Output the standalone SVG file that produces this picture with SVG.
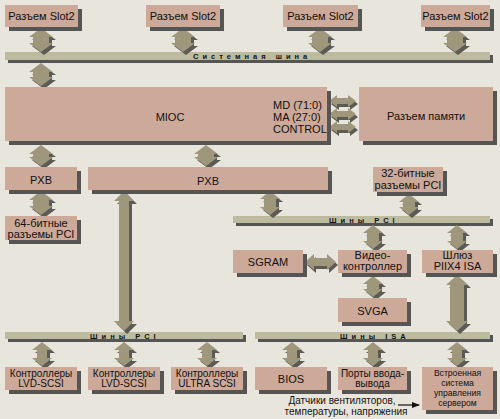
<svg xmlns="http://www.w3.org/2000/svg" xmlns:xlink="http://www.w3.org/1999/xlink" width="500" height="419" viewBox="0 0 500 419">
<style>
.bg{fill:#e8e6dc}
.box{fill:#cca998}
.bsh{fill:#555553}
.bus{fill:#bcbba0}
.a{fill:#9f977b}
.ash{fill:#5b5a55}
text{font-family:"Liberation Sans","DejaVu Sans",sans-serif;font-size:11px;fill:#111;text-anchor:middle}
.sm{font-size:10px}
.xs{font-size:8.6px}
.bl{font-size:7.5px;font-weight:bold;letter-spacing:4px;text-anchor:start}
.l{text-anchor:start}
</style>
<defs>
<path id="a1" d="M41 28 L53 37 L49 37 L49 43 L53 43 L41 52 L29 43 L33 43 L33 37 L29 37 Z"/>
<path id="a2" d="M183 28 L195 37 L191 37 L191 43 L195 43 L183 52 L171 43 L175 43 L175 37 L171 37 Z"/>
<path id="a3" d="M320 28 L332 37 L328 37 L328 43 L332 43 L320 52 L308 43 L312 43 L312 37 L308 37 Z"/>
<path id="a4" d="M455 28 L467 37 L463 37 L463 43 L467 43 L455 52 L443 43 L447 43 L447 37 L443 37 Z"/>
<path id="a5" d="M41 63 L53 72 L49 72 L49 77 L53 77 L41 86 L29 77 L33 77 L33 72 L29 72 Z"/>
<path id="a6" d="M41 145 L53 154 L49 154 L49 157 L53 157 L41 166 L29 157 L33 157 L33 154 L29 154 Z"/>
<path id="a7" d="M206 145 L218 154 L214 154 L214 157 L218 157 L206 166 L194 157 L198 157 L198 154 L194 154 Z"/>
<path id="a8" d="M41 191 L53 200 L49 200 L49 206 L53 206 L41 215 L29 206 L33 206 L33 200 L29 200 Z"/>
<path id="a9" d="M270 191 L280 199 L276 199 L276 207 L280 207 L270 215 L260 207 L264 207 L264 199 L260 199 Z"/>
<path id="a10" d="M409 194 L419 202 L415 202 L415 207 L419 207 L409 215 L399 207 L403 207 L403 202 L399 202 Z"/>
<path id="a11" d="M373 225 L383 233 L379 233 L379 241 L383 241 L373 249 L363 241 L367 241 L367 233 L363 233 Z"/>
<path id="a12" d="M457 225 L467 233 L463 233 L463 241 L467 241 L457 249 L447 241 L451 241 L451 233 L447 233 Z"/>
<path id="a13" d="M373 276 L383 284 L379 284 L379 289 L383 289 L373 297 L363 289 L367 289 L367 284 L363 284 Z"/>
<path id="a14" d="M124 191 L134 201 L129 201 L129 321 L134 321 L124 331 L114 321 L119 321 L119 201 L114 201 Z"/>
<path id="a15" d="M457 275 L468 285 L464 285 L464 321 L468 321 L457 331 L446 321 L450 321 L450 285 L446 285 Z"/>
<path id="b1" d="M42 342 L52 350 L47 350 L47 358 L52 358 L42 366 L32 358 L37 358 L37 350 L32 350 Z"/>
<path id="b2" d="M124 342 L134 350 L129 350 L129 358 L134 358 L124 366 L114 358 L119 358 L119 350 L114 350 Z"/>
<path id="b3" d="M207 342 L217 350 L212 350 L212 358 L217 358 L207 366 L197 358 L202 358 L202 350 L197 350 Z"/>
<path id="b4" d="M292 342 L302 350 L297 350 L297 358 L302 358 L292 366 L282 358 L287 358 L287 350 L282 350 Z"/>
<path id="b5" d="M373 342 L383 350 L378 350 L378 358 L383 358 L373 366 L363 358 L368 358 L368 350 L363 350 Z"/>
<path id="b6" d="M457 342 L467 350 L462 350 L462 358 L467 358 L457 366 L447 358 L452 358 L452 350 L447 350 Z"/>
<path id="h1" d="M329 101 L337 95 L337 98 L348 98 L348 95 L356 101 L348 107 L348 104 L337 104 L337 107 Z"/>
<path id="h2" d="M329 114 L337 108 L337 111 L348 111 L348 108 L356 114 L348 120 L348 117 L337 117 L337 120 Z"/>
<path id="h3" d="M329 127 L337 121 L337 124 L348 124 L348 121 L356 127 L348 133 L348 130 L337 130 L337 133 Z"/>
<path id="h4" d="M305 262 L314 254 L314 258 L327 258 L327 254 L336 262 L327 270 L327 266 L314 266 L314 270 Z"/>
<marker id="ah" markerWidth="8" markerHeight="6" refX="7" refY="3" orient="auto" markerUnits="userSpaceOnUse"><path d="M0 0 L8 3 L0 6 Z" fill="#111"/></marker>
</defs>
<rect class="bg" x="0" y="0" width="500" height="419"/>

<g id="buses">
<g id="sysbus"><rect class="bsh" x="8" y="55" width="485" height="8"/><rect class="bus" x="5" y="52" width="485" height="8"/><text class="bl" x="193" y="59">Системная шина</text></g>
<g id="pcibus1"><rect class="bsh" x="236" y="219" width="257" height="7"/><rect class="bus" x="233" y="216" width="257" height="7"/><text class="bl" x="329" y="223">Шины PCI</text></g>
<g id="pcibus2"><rect class="bsh" x="8" y="335" width="238" height="7"/><rect class="bus" x="5" y="332" width="238" height="7"/><text class="bl" x="90" y="339">Шины PCI</text></g>
<g id="isabus"><rect class="bsh" x="258" y="335" width="235" height="7"/><rect class="bus" x="255" y="332" width="235" height="7"/><text class="bl" x="340" y="339">Шины ISA</text></g>
</g>

<g id="connectors">
<use href="#a1" class="ash" x="3" y="3"/><use href="#a1" class="a"/>
<use href="#a2" class="ash" x="3" y="3"/><use href="#a2" class="a"/>
<use href="#a3" class="ash" x="3" y="3"/><use href="#a3" class="a"/>
<use href="#a4" class="ash" x="3" y="3"/><use href="#a4" class="a"/>
<use href="#a5" class="ash" x="3" y="3"/><use href="#a5" class="a"/>
<use href="#a6" class="ash" x="3" y="3"/><use href="#a6" class="a"/>
<use href="#a7" class="ash" x="3" y="3"/><use href="#a7" class="a"/>
<use href="#a8" class="ash" x="3" y="3"/><use href="#a8" class="a"/>
<use href="#a9" class="ash" x="3" y="3"/><use href="#a9" class="a"/>
<use href="#a10" class="ash" x="3" y="3"/><use href="#a10" class="a"/>
<use href="#a11" class="ash" x="3" y="3"/><use href="#a11" class="a"/>
<use href="#a12" class="ash" x="3" y="3"/><use href="#a12" class="a"/>
<use href="#a13" class="ash" x="3" y="3"/><use href="#a13" class="a"/>
<use href="#a14" class="ash" x="3" y="3"/><use href="#a14" class="a"/>
<use href="#a15" class="ash" x="3" y="3"/><use href="#a15" class="a"/>
<use href="#b1" class="ash" x="3" y="3"/><use href="#b1" class="a"/>
<use href="#b2" class="ash" x="3" y="3"/><use href="#b2" class="a"/>
<use href="#b3" class="ash" x="3" y="3"/><use href="#b3" class="a"/>
<use href="#b4" class="ash" x="3" y="3"/><use href="#b4" class="a"/>
<use href="#b5" class="ash" x="3" y="3"/><use href="#b5" class="a"/>
<use href="#b6" class="ash" x="3" y="3"/><use href="#b6" class="a"/>
<use href="#h1" class="ash" x="2" y="3"/><use href="#h1" class="a"/>
<use href="#h2" class="ash" x="2" y="3"/><use href="#h2" class="a"/>
<use href="#h3" class="ash" x="2" y="3"/><use href="#h3" class="a"/>
<use href="#h4" class="ash" x="2" y="3"/><use href="#h4" class="a"/>
<line x1="398" y1="405" x2="419" y2="405" stroke="#111" stroke-width="1.2" marker-end="url(#ah)"/>
</g>

<g id="slot1"><rect class="bsh" x="9" y="9" width="73" height="22"/><rect class="box" x="5" y="5" width="73" height="22"/><text x="41.5" y="20">Разъем Slot2</text></g>
<g id="slot2"><rect class="bsh" x="150" y="9" width="74" height="22"/><rect class="box" x="146" y="5" width="74" height="22"/><text x="183" y="20">Разъем Slot2</text></g>
<g id="slot3"><rect class="bsh" x="287" y="9" width="75" height="22"/><rect class="box" x="283" y="5" width="75" height="22"/><text x="320.5" y="20">Разъем Slot2</text></g>
<g id="slot4"><rect class="bsh" x="425" y="9" width="69" height="22"/><rect class="box" x="421" y="5" width="69" height="22"/><text x="455.5" y="20">Разъем Slot2</text></g>

<g id="mioc"><rect class="bsh" x="9" y="91" width="322" height="54"/><rect class="box" x="5" y="87" width="322" height="54"/><text x="170" y="121">MIOC</text>
<text class="l" x="273" y="109">MD (71:0)</text><text class="l" x="273" y="121">MA (27:0)</text><text class="l" x="273" y="133">CONTROL</text></g>
<g id="memory"><rect class="bsh" x="363" y="91" width="134" height="54"/><rect class="box" x="359" y="87" width="134" height="54"/><text x="426" y="120">Разъем памяти</text></g>

<g id="pxb1"><rect class="bsh" x="9" y="171" width="72" height="23"/><rect class="box" x="5" y="167" width="72" height="23"/><text x="41" y="184">PXB</text></g>
<g id="pxb2"><rect class="bsh" x="92" y="171" width="240" height="23"/><rect class="box" x="88" y="167" width="240" height="23"/><text x="208" y="185">PXB</text></g>
<g id="pci32"><rect class="bsh" x="377" y="171" width="70" height="25"/><rect class="box" x="373" y="167" width="70" height="25"/><text x="408" y="177">32-битные</text><text x="408" y="189">разъемы PCI</text></g>
<g id="pci64"><rect class="bsh" x="9" y="220" width="72" height="24"/><rect class="box" x="5" y="216" width="72" height="24"/><text x="41" y="227">64-битные</text><text x="41" y="238">разъемы PCI</text></g>

<g id="sgram"><rect class="bsh" x="237" y="254" width="70" height="23"/><rect class="box" x="233" y="250" width="70" height="23"/><text x="268" y="266">SGRAM</text></g>
<g id="video"><rect class="bsh" x="342" y="254" width="69" height="23"/><rect class="box" x="338" y="250" width="69" height="23"/><text x="372.5" y="259">Видео-</text><text x="372.5" y="270">контроллер</text></g>
<g id="piix4"><rect class="bsh" x="426" y="254" width="71" height="23"/><rect class="box" x="422" y="250" width="71" height="23"/><text x="457.5" y="259">Шлюз</text><text x="457.5" y="270">PIIX4 ISA</text></g>
<g id="svga"><rect class="bsh" x="342" y="302" width="69" height="24"/><rect class="box" x="338" y="298" width="69" height="24"/><text x="372.5" y="315">SVGA</text></g>

<g id="scsi1"><rect class="bsh" x="9" y="371" width="72" height="23"/><rect class="box" x="5" y="367" width="72" height="23"/><text class="sm" x="41" y="377">Контроллеры</text><text class="sm" x="41" y="387">LVD-SCSI</text></g>
<g id="scsi2"><rect class="bsh" x="92" y="371" width="72" height="23"/><rect class="box" x="88" y="367" width="72" height="23"/><text class="sm" x="124" y="377">Контроллеры</text><text class="sm" x="124" y="387">LVD-SCSI</text></g>
<g id="scsi3"><rect class="bsh" x="175" y="371" width="72" height="23"/><rect class="box" x="171" y="367" width="72" height="23"/><text class="sm" x="207" y="377">Контроллеры</text><text class="sm" x="207" y="387">ULTRA SCSI</text></g>
<g id="bios"><rect class="bsh" x="259" y="371" width="72" height="23"/><rect class="box" x="255" y="367" width="72" height="23"/><text x="291" y="383">BIOS</text></g>
<g id="ports"><rect class="bsh" x="342" y="371" width="69" height="23"/><rect class="box" x="338" y="367" width="69" height="23"/><text class="sm" x="372.5" y="377">Порты ввода-</text><text class="sm" x="372.5" y="387">вывода</text></g>
<g id="mgmt"><rect class="bsh" x="426" y="371" width="71" height="43"/><rect class="box" x="422" y="367" width="71" height="43"/><text class="xs" x="457.5" y="376">Встроенная</text><text class="xs" x="457.5" y="386">система</text><text class="xs" x="457.5" y="396">управления</text><text class="xs" x="457.5" y="406">сервером</text></g>

<g id="sensors"><text class="sm" x="342" y="404">Датчики вентиляторов,</text><text class="sm" x="346" y="415">температуры, напряжения</text></g>
</svg>
